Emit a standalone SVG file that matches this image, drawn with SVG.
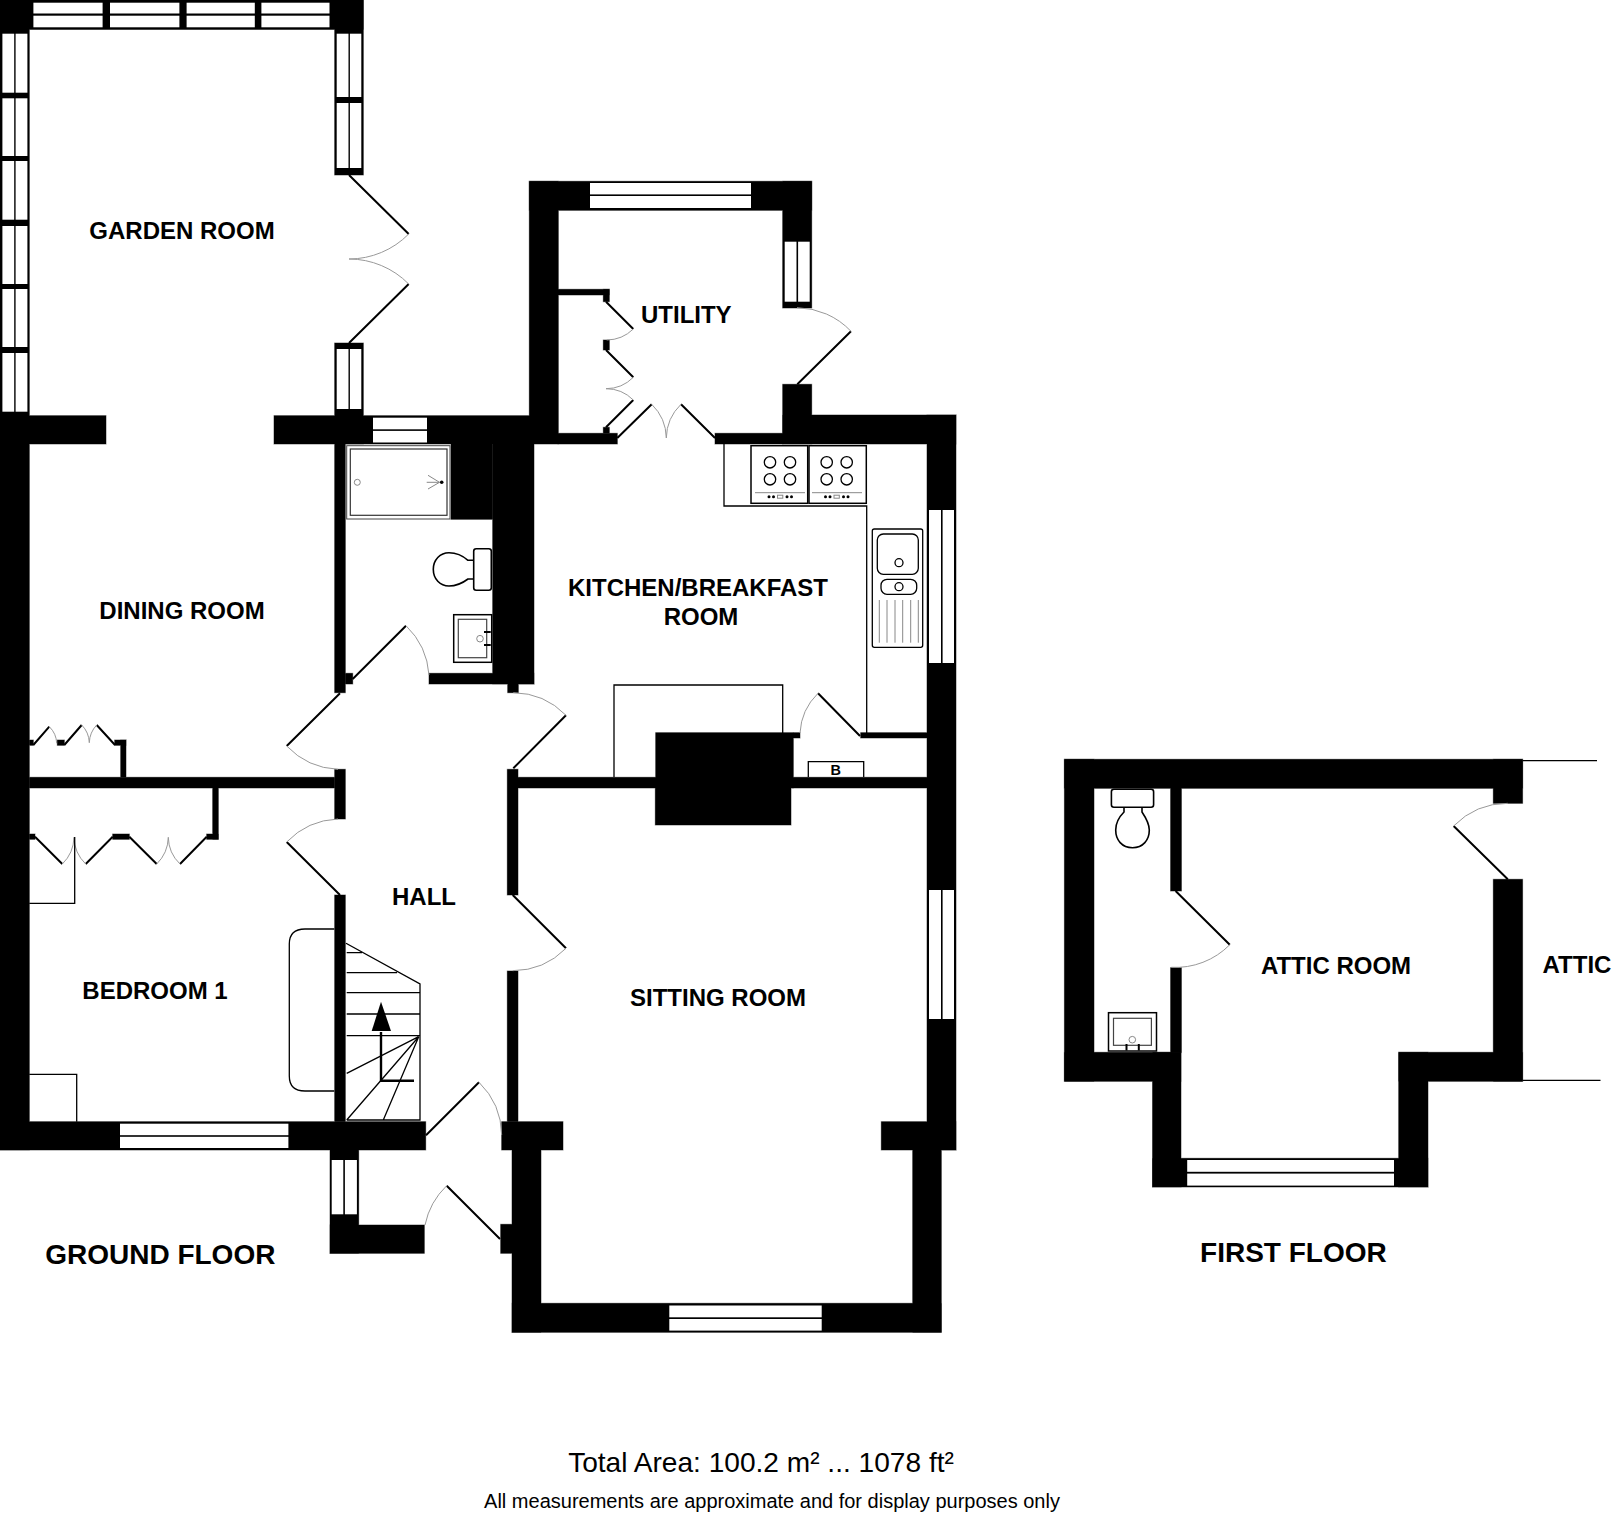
<svg xmlns="http://www.w3.org/2000/svg" xmlns:xlink="http://www.w3.org/1999/xlink" width="1616" height="1520" viewBox="0 0 1616 1520">
<style>
.p{fill:#fff}
.l{fill:none;stroke:#000;stroke-width:1.3}
.d{fill:none;stroke:#000;stroke-width:2}
.a{fill:none;stroke:#999;stroke-width:1}
.f{fill:#fff;stroke:#000;stroke-width:1.5}
.g{fill:none;stroke:#888;stroke-width:1}
.t{font-family:"Liberation Sans",Arial,sans-serif;font-weight:700;font-size:24px;fill:#000;text-anchor:middle}
.n{font-family:"Liberation Sans",Arial,sans-serif;fill:#000;text-anchor:middle}
</style>
<defs>
<g id="wallshape">
<rect x="0" y="0" width="363.3" height="29.5"/>
<rect x="0" y="0" width="29.3" height="1150"/>
<rect x="334.7" y="0" width="28.6" height="175"/>
<rect x="334.7" y="343" width="28.6" height="101"/>
<rect x="0" y="415.7" width="106" height="28.3"/>
<rect x="274" y="415.7" width="260" height="28.3"/>
<rect x="334.7" y="444" width="10.6" height="248.7"/>
<rect x="492.7" y="444" width="41.3" height="240"/>
<rect x="451" y="444" width="41.7" height="75.3"/>
<rect x="429" y="673.3" width="105" height="10.7"/>
<rect x="345.3" y="673.3" width="7.4" height="10.7"/>
<rect x="507.7" y="684" width="10.6" height="8.7"/>
<rect x="529.3" y="181.3" width="282.4" height="29"/>
<rect x="529.3" y="181.3" width="29" height="262.7"/>
<rect x="782.7" y="181.3" width="29" height="126.7"/>
<rect x="782.7" y="384.3" width="29" height="59.7"/>
<rect x="782.7" y="415" width="173.3" height="29"/>
<rect x="715" y="433.3" width="68" height="10.7"/>
<rect x="558" y="433.3" width="59.3" height="10.7"/>
<rect x="558" y="289.3" width="51.3" height="5.7"/>
<rect x="603.3" y="289.3" width="6" height="12.4"/>
<rect x="603.3" y="340" width="6" height="10"/>
<rect x="603.3" y="427.3" width="6" height="6"/>
<rect x="927" y="415" width="29" height="735"/>
<rect x="518" y="777.3" width="409" height="10.7"/>
<rect x="655.7" y="732.7" width="137.6" height="55.3"/>
<rect x="655.3" y="788" width="135.7" height="37"/>
<rect x="793" y="732.7" width="7" height="5.3"/>
<rect x="860.7" y="732.7" width="66.3" height="5.3"/>
<rect x="29.3" y="777.3" width="305.4" height="10.7"/>
<rect x="334.7" y="769.3" width="10.6" height="49.7"/>
<rect x="334.7" y="895" width="10.6" height="226.7"/>
<rect x="507.3" y="769.3" width="10.7" height="125.7"/>
<rect x="507.3" y="971" width="10.7" height="150.7"/>
<rect x="120.7" y="740" width="5.3" height="37.3"/>
<rect x="114.7" y="740" width="11.3" height="5.3"/>
<rect x="29.3" y="740" width="4" height="5.3"/>
<rect x="57.3" y="740" width="7" height="5.3"/>
<rect x="212.7" y="788" width="5.6" height="51.3"/>
<rect x="206.7" y="834" width="11.6" height="5.3"/>
<rect x="29.3" y="834" width="5.7" height="5.3"/>
<rect x="112.7" y="834" width="16.6" height="5.3"/>
<rect x="0" y="1121.7" width="425.7" height="28.3"/>
<rect x="501.7" y="1121.7" width="61.3" height="28.3"/>
<rect x="881.3" y="1121.7" width="74.7" height="28.3"/>
<rect x="330" y="1150" width="28.7" height="103.3"/>
<rect x="330" y="1225" width="94.3" height="28.3"/>
<rect x="500.7" y="1224.3" width="15" height="29"/>
<rect x="512" y="1150" width="29" height="182.3"/>
<rect x="912.7" y="1150" width="28.6" height="182.3"/>
<rect x="512" y="1303.3" width="429.3" height="29"/>
<rect x="1064.4" y="759.3" width="458.2" height="29"/>
<rect x="1064.4" y="759.3" width="29.6" height="322"/>
<rect x="1064.4" y="1052.3" width="116.6" height="29"/>
<rect x="1152.5" y="1052.3" width="28.5" height="134.7"/>
<rect x="1152.5" y="1158.3" width="275.5" height="28.7"/>
<rect x="1398.7" y="1052.3" width="29.3" height="134.7"/>
<rect x="1398.7" y="1052.3" width="123.9" height="29"/>
<rect x="1493.3" y="879.3" width="29.3" height="202"/>
<rect x="1493.3" y="759.3" width="29.3" height="44"/>
<rect x="1170.6" y="788" width="10.8" height="103"/>
<rect x="1170.6" y="967.7" width="10.8" height="85"/>
</g>
</defs>
<rect width="1616" height="1520" fill="#fff"/>
<g id="walls">
<use href="#wallshape" fill="#000" stroke="#888" stroke-width="1"/>
<use href="#wallshape" fill="#000"/>
</g>
<g id="windows">
<g class="p">
<rect x="33.4" y="2.7" width="69.2" height="10.8"/><rect x="33.4" y="15.7" width="69.2" height="11.6"/>
<rect x="110" y="2.7" width="69.4" height="10.8"/><rect x="110" y="15.7" width="69.4" height="11.6"/>
<rect x="186.6" y="2.7" width="68.2" height="10.8"/><rect x="186.6" y="15.7" width="68.2" height="11.6"/>
<rect x="261.4" y="2.7" width="68.1" height="10.8"/><rect x="261.4" y="15.7" width="68.1" height="11.6"/>
<rect x="2.4" y="33.7" width="11.8" height="59"/><rect x="15.6" y="33.7" width="11.8" height="59"/>
<rect x="2.4" y="98.3" width="11.8" height="57.7"/><rect x="15.6" y="98.3" width="11.8" height="57.7"/>
<rect x="2.4" y="161" width="11.8" height="58.7"/><rect x="15.6" y="161" width="11.8" height="58.7"/>
<rect x="2.4" y="226" width="11.8" height="58"/><rect x="15.6" y="226" width="11.8" height="58"/>
<rect x="2.4" y="289" width="11.8" height="58"/><rect x="15.6" y="289" width="11.8" height="58"/>
<rect x="2.4" y="353" width="11.8" height="58.7"/><rect x="15.6" y="353" width="11.8" height="58.7"/>
<rect x="336.7" y="33.7" width="11.8" height="63.3"/><rect x="349.9" y="33.7" width="11.4" height="63.3"/>
<rect x="336.7" y="103" width="11.8" height="65"/><rect x="349.9" y="103" width="11.4" height="65"/>
<rect x="336.7" y="349" width="11.8" height="60"/><rect x="349.9" y="349" width="11.4" height="60"/>
<rect x="373" y="417.7" width="54" height="11.6"/><rect x="373" y="430.9" width="54" height="11.6"/>
<rect x="590" y="183" width="161" height="11.4"/><rect x="590" y="196" width="161" height="12"/>
<rect x="784.7" y="241.7" width="11.8" height="60"/><rect x="798.1" y="241.7" width="11.6" height="60"/>
<rect x="929" y="510" width="12" height="153"/><rect x="942.6" y="510" width="11.4" height="153"/>
<rect x="929" y="890" width="12" height="129"/><rect x="942.6" y="890" width="11.4" height="129"/>
<rect x="120" y="1123.7" width="168.4" height="11.5"/><rect x="120" y="1136.8" width="168.4" height="11.2"/>
<rect x="331.7" y="1160" width="11.6" height="54.3"/><rect x="344.9" y="1160" width="12" height="54.3"/>
<rect x="669.3" y="1305.5" width="152.4" height="11.8"/><rect x="669.3" y="1319" width="152.4" height="11.6"/>
<rect x="1187.2" y="1160" width="206.8" height="11.8"/><rect x="1187.2" y="1173.6" width="206.8" height="12"/>
</g>
</g>
<g id="connectors">
<path class="d" d="M349 175L408.7 234M349 343L408.7 284M797.3 384.3L851 331.3M617.3 438L651.7 404.3M715 438L681 404.3M606 301.7L633.3 329M606 350L633.3 377.3M606 427.3L633.3 400M352.7 679L406 625.7M513.3 768.3L566 715.3M340 693.3L286.7 746M340 895L286.7 842M512.7 895L566 948.3M426 1135.3L479 1082.3M500 1239L446.7 1185.7M860 736L818 693.3M33.3 745L49.3 726.7M64.3 745L81.7 725M115 745L96.7 725M35 836.7L62.3 864M112.7 836.7L85.7 864M129.3 836.7L156.7 864M206.7 836.7L180 864M1507.8 879.3L1453.6 826M1175.6 891L1229.8 944.7"/>
<path class="a" d="M408.7 234A84 84 0 0 1 349 259A84 84 0 0 1 408.7 284M851 331.3A75.4 75.4 0 0 0 797 307.7M651.7 404.3A48 48 0 0 1 666.3 438A48 48 0 0 1 681 404.3M633.3 329A38.6 38.6 0 0 1 606.7 340M633.3 377.3A38.6 38.6 0 0 1 606 388.7A38.6 38.6 0 0 1 633.3 400M406 625.7A75.4 75.4 0 0 1 429 675M566 715.3A74.7 74.7 0 0 0 513.3 692.7M286.7 746A75.4 75.4 0 0 0 338 769.3M286.7 842A75.4 75.4 0 0 1 338 819M566 948.3A75.4 75.4 0 0 1 512.7 970.7M479 1082.3A75 75 0 0 1 501.7 1135M446.7 1185.7A75.4 75.4 0 0 0 425 1225M818 693.3A59.9 59.9 0 0 0 800 733M49.3 726.7A24.3 24.3 0 0 1 56.7 743.3M81.7 725A26.5 26.5 0 0 1 89.3 742.7A27 27 0 0 1 96.7 725M62.3 864A38.6 38.6 0 0 0 74 837.3A38.2 38.2 0 0 0 85.7 864M156.7 864A38.7 38.7 0 0 0 168.3 837.3A38 38 0 0 0 180 864M1453.6 826A76 76 0 0 1 1507.8 803.3M1229.8 944.7A76.3 76.3 0 0 1 1171.3 967.3"/>
</g>
<g id="fixtures">
<path class="l" d="M724 444V506H866.7V733"/>
<path class="l" d="M1522.6 760.7H1597M1522.6 1080.3H1600.5"/>
<path class="l" d="M614 777V685H782.7V733"/>
<path class="l" d="M808.3 777V761.7H863.7V777"/>
<path class="l" d="M74.7 837V903.3H29.3M29.3 1074.3H76.7V1121.7"/>
<path class="l" d="M334.3 929H305Q289.3 929 289.3 944V1076Q289.3 1091 305 1091H334.3"/>
<path class="l" d="M346 943.3L420 984V1120H346.7M346.7 952.7H362M346.7 972.7H397M346.7 992.7H420M346.7 1014H420M346.7 1035.7H420M418.7 1036.7L346.7 1073.3M418.7 1036.7L346.7 1120M418.7 1036.7L383.3 1120"/>
<path fill="none" stroke="#000" stroke-width="2.4" d="M381 1032V1080.7H414"/>
<path d="M381 1001.7L391 1031H371.7Z"/>
<g id="hobs">
<rect class="f" x="751" y="445.7" width="56.7" height="57.6"/>
<rect class="f" x="809" y="445.7" width="57.3" height="57.6"/>
<circle class="l" cx="770" cy="462.3" r="5.7"/><circle class="l" cx="790" cy="462.3" r="5.7"/><circle class="l" cx="770" cy="479.3" r="5.7"/><circle class="l" cx="790" cy="479.3" r="5.7"/>
<circle class="l" cx="826.7" cy="462.3" r="5.7"/><circle class="l" cx="846.7" cy="462.3" r="5.7"/><circle class="l" cx="826.7" cy="479.3" r="5.7"/><circle class="l" cx="846.7" cy="479.3" r="5.7"/>
<path class="g" d="M755 492.7H805M812 492.7H862"/>
<rect class="g" x="777.5" y="495.2" width="5.3" height="3"/><rect class="g" x="834" y="495.2" width="5.3" height="3"/>
<circle cx="769" cy="496.7" r="1.5"/><circle cx="773.5" cy="496.7" r="1.5"/><circle cx="787" cy="496.7" r="1.5"/><circle cx="791.5" cy="496.7" r="1.5"/>
<circle cx="825.5" cy="496.7" r="1.5"/><circle cx="830" cy="496.7" r="1.5"/><circle cx="843.5" cy="496.7" r="1.5"/><circle cx="848" cy="496.7" r="1.5"/>
</g>
<g id="sink">
<rect class="l" x="872.3" y="529" width="50.4" height="118.3" rx="2"/>
<rect class="l" x="877.3" y="534" width="41" height="40.3" rx="6"/>
<circle class="l" cx="899" cy="562.7" r="4"/>
<rect class="l" x="881" y="579.3" width="35.7" height="15" rx="6"/>
<circle class="l" cx="899" cy="586.7" r="4"/>
<path class="g" d="M879.3 600V642.7M887 600V642.7M895 600V642.7M902.7 600V642.7M910.7 600V642.7M918.3 600V642.7"/>
</g>
<g id="shower">
<rect fill="#fff" stroke="#444" stroke-width="1" x="346.7" y="445.7" width="103.3" height="73.3"/>
<rect fill="none" stroke="#333" stroke-width="1.2" x="350.3" y="449" width="96.7" height="66.3"/>
<circle class="g" cx="357.3" cy="482.3" r="3"/>
<circle cx="441.7" cy="482.3" r="1.8"/>
<path class="g" d="M439.5 482.3H426.7M439.5 482.3L428 475.3M439.5 482.3L428 489"/>
</g>
<g id="toilet1">
<path fill="#fff" stroke="#000" stroke-width="1.6" d="M473.7 560.3H468C462 555 456 552.7 449 552.7C440 552.7 433.3 560 433.3 569.3C433.3 579 440 586 449 586C456 586 462 583.5 468 579H473.7"/>
<rect class="l" style="stroke-width:1.6" x="473.7" y="548.7" width="17.6" height="41.6" rx="2.5"/>
</g>
<g id="basin1">
<rect class="l" style="stroke-width:1.5" x="453.7" y="614.7" width="38" height="47.6"/>
<rect fill="none" stroke="#444" stroke-width="1.2" x="458.3" y="619.3" width="28.4" height="38.4"/>
<circle class="g" cx="480" cy="638.7" r="3.3"/>
<path class="d" d="M484 632H490.7M484 645H490.7"/>
</g>
<g id="toilet2">
<path class="l" style="stroke-width:1.6" d="M1124 807.3V812C1118 818 1115.7 825 1115.7 830C1115.7 840 1122 847.7 1132.5 847.7C1143 847.7 1149.3 840 1149.3 830C1149.3 825 1146 818 1142 812V807.3"/>
<rect class="l" style="stroke-width:1.6" x="1111.4" y="789.3" width="42.2" height="18" rx="2.5"/>
</g>
<g id="basin2">
<rect class="l" style="stroke-width:1.5" x="1108.5" y="1012.7" width="48" height="38.3"/>
<rect fill="none" stroke="#444" stroke-width="1.2" x="1113.5" y="1018.3" width="37.9" height="27"/>
<circle class="g" cx="1132.3" cy="1039.7" r="3.3"/>
<path class="d" d="M1126.5 1044V1050.5M1138.8 1044V1050.5"/>
</g>
</g>
<g id="labels">
<text class="t" x="182" y="238.7">GARDEN ROOM</text>
<text class="t" x="686.3" y="323">UTILITY</text>
<text class="t" x="182" y="618.7">DINING ROOM</text>
<text class="t" x="698" y="596">KITCHEN/BREAKFAST</text>
<text class="t" x="701" y="625">ROOM</text>
<text class="t" x="155" y="998.7">BEDROOM 1</text>
<text class="t" x="424" y="905">HALL</text>
<text class="t" x="718" y="1005.8">SITTING ROOM</text>
<text class="t" x="1336" y="974">ATTIC ROOM</text>
<text class="t" x="1577" y="972.7">ATTIC</text>
<text class="t" x="160.3" y="1263.6" style="font-size:28px">GROUND FLOOR</text>
<text class="t" x="1293.4" y="1261.5" style="font-size:28px">FIRST FLOOR</text>
<text class="t" x="835.7" y="774.5" style="font-size:14.5px">B</text>
<text class="n" x="761" y="1472" font-size="28.1">Total Area: 100.2 m² ... 1078 ft²</text>
<text class="n" x="772" y="1508" font-size="20">All measurements are approximate and for display purposes only</text>
</g>
</svg>
